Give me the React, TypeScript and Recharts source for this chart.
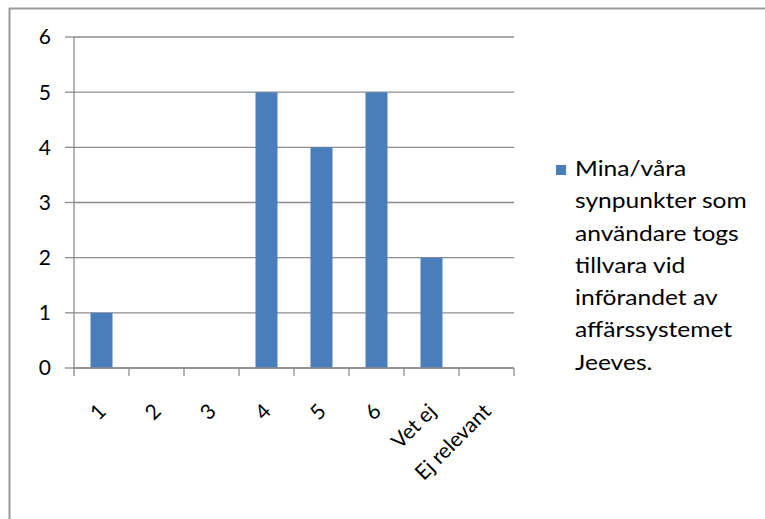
import React from "react";
import { BarChart, Bar, XAxis, YAxis, CartesianGrid, Legend } from "recharts";

const categories = ["1", "2", "3", "4", "5", "6", "Vet ej", "Ej relevant"];
const values = [1, 0, 0, 5, 4, 5, 2, 0];
const yTicks = [0, 1, 2, 3, 4, 5, 6];
const seriesName =
  "Mina/våra synpunkter som användare togs tillvara vid införandet av affärssystemet Jeeves.";
const legendLines = [
  "Mina/våra",
  "synpunkter som",
  "användare togs",
  "tillvara vid",
  "införandet av",
  "affärssystemet",
  "Jeeves.",
];

const data = categories.map((c, i) => ({ name: c, value: values[i] }));

const FONT = "Lato, 'Open Sans', sans-serif";
const BAR = "#4A7EBB";
const GRID = "#8C8C8C";

const XTick = (props: any) => {
  const { x, y, payload } = props;
  const off = payload && payload.offset ? payload.offset : 27.4;
  const isFirst = payload && payload.index === 0;
  return (
    <g>
      <line x1={x + off} y1={y} x2={x + off} y2={y + 8} stroke={GRID} strokeWidth={1.3} />
      {isFirst ? (
        <line x1={x - off} y1={y} x2={x - off} y2={y + 8} stroke={GRID} strokeWidth={1.3} />
      ) : null}
      <text
        x={0}
        y={0}
        transform={`translate(${x + 2},${y + 41}) rotate(-45)`}
        textAnchor="end"
        dominantBaseline="middle"
        fontFamily={FONT}
        fontSize={21}
        fill="#000"
      >
        {payload.value}
      </text>
    </g>
  );
};

const LegendContent = () => (
  <div
    style={{
      fontFamily: FONT,
      fontSize: 21,
      lineHeight: "32.3px",
      color: "#000",
      position: "relative",
      width: 210,
    }}
  >
    <span
      style={{
        position: "absolute",
        left: 3,
        top: 13,
        width: 10,
        height: 10,
        background: BAR,
      }}
    />
    <div
      style={{ marginLeft: 22, transform: "scaleX(1.17)", transformOrigin: "0 0" }}
      title={seriesName}
    >
      {legendLines.map((l, i) => (
        <div key={i} style={{ whiteSpace: "nowrap" }}>
          {l}
        </div>
      ))}
    </div>
  </div>
);

export default function App() {
  return (
    <div style={{ position: "absolute", left: 0, top: 0, width: 765, height: 519, background: "#fff" }}>
      <svg width={765} height={519} style={{ position: "absolute", left: 0, top: 0 }}>
        <line x1={9.5} y1={8} x2={9.5} y2={519} stroke="#9A9A9A" strokeWidth={2} />
        <line x1={9} y1={8.5} x2={765} y2={8.5} stroke="#9A9A9A" strokeWidth={2} />
      </svg>
      <div style={{ position: "absolute", left: 0, top: 0 }}>
        <BarChart
          width={765}
          height={519}
          data={data}
          margin={{ top: 37, right: 41, left: 0, bottom: 0 }}
          barCategoryGap="30%"
        >
          <CartesianGrid horizontal vertical={false} stroke={GRID} strokeWidth={1.3} />
          <XAxis
            dataKey="name"
            interval={0}
            height={151}
            axisLine={{ stroke: GRID, strokeWidth: 1.3 }}
            tickLine={false}
            tickSize={0}
            tickMargin={0}
            tick={<XTick />}
          />
          <YAxis
            domain={[0, 6]}
            ticks={yTicks}
            width={74}
            axisLine={{ stroke: GRID, strokeWidth: 1.3 }}
            tickLine={{ stroke: GRID, strokeWidth: 1.3 }}
            tickSize={9}
            tickMargin={14}
            tick={{ fontFamily: FONT, fontSize: 21, fill: "#000" }}
          />
          <Legend
            layout="horizontal"
            verticalAlign="middle"
            align="right"
            content={<LegendContent />}
            wrapperStyle={{ position: "absolute", left: 553, top: 152, width: 210 }}
          />
          <Bar dataKey="value" name={seriesName} fill={BAR} isAnimationActive={false} />
        </BarChart>
      </div>
    </div>
  );
}
